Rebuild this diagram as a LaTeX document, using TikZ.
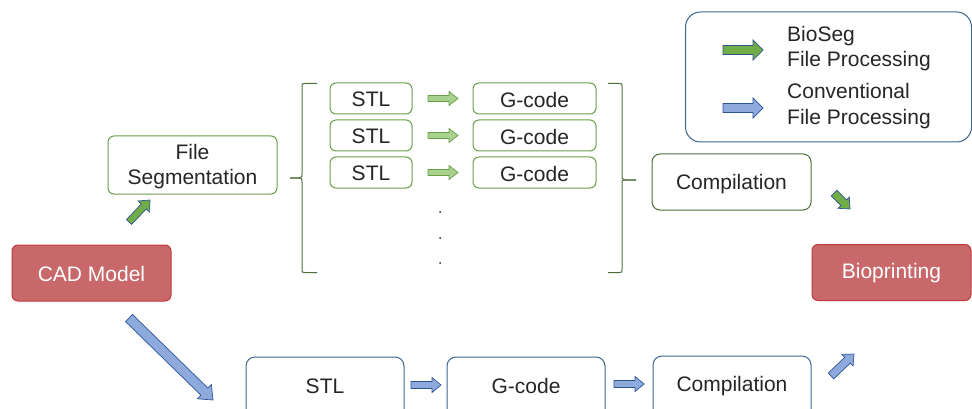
\documentclass[tikz,border=0pt]{standalone}
\usepackage{fontspec}
\setmainfont{Liberation Sans}
\usetikzlibrary{calc}

\definecolor{redfill}{HTML}{C8686A}
\definecolor{redline}{HTML}{C0383C}
\definecolor{greenline}{HTML}{6A9E48}
\definecolor{darkgreen}{HTML}{4E6E3A}
\definecolor{blueline}{HTML}{3C6591}
\definecolor{txt}{HTML}{262626}
\definecolor{garrow}{HTML}{70AD47}
\definecolor{lgarrow}{HTML}{A9D18E}
\definecolor{barrow}{HTML}{8EA9DB}
\definecolor{barrowline}{HTML}{2F5597}

% block arrow: [style]{from}{to}{shaft half width}{head half width}{head length}
\newcommand\blockarrow[6][]{%
  \coordinate (ba-base) at ($(#3)!#6!(#2)$);
  \filldraw[#1] ($(#2)!#4!90:(#3)$) -- ($(ba-base)!#4!90:(#3)$)
    -- ($(ba-base)!#5!90:(#3)$) -- (#3) -- ($(ba-base)!#5!-90:(#3)$)
    -- ($(ba-base)!#4!-90:(#3)$) -- ($(#2)!#4!-90:(#3)$) -- cycle;}

\tikzset{
  label font/.style={font=\fontsize{21}{25.5}\selectfont},
  box/.style={draw, rounded corners=6pt, line width=1pt, fill=white,
    text=txt, label font, align=center, inner sep=0pt},
  endbox/.style={box, draw=redline, fill=redfill, text=white,
    minimum width=159pt, minimum height=56pt},
  gbox/.style={box, draw=greenline},
  bbox/.style={box, draw=blueline, rounded corners=9pt},
  small/.style={gbox, minimum width=82pt, minimum height=31pt},
  code/.style={gbox, minimum width=123pt, minimum height=31pt},
  brace/.style={draw=darkgreen, line width=1pt},
  greenarrow/.style={fill=garrow, draw=barrowline, line width=0.7pt},
  lightarrow/.style={fill=lgarrow, draw=greenline, line width=0.7pt},
  bluearrow/.style={fill=barrow, draw=barrowline, line width=0.7pt},
  plain/.style={text=txt, label font, inner sep=0pt},
  legendtext/.style={plain, align=left, anchor=west},
  dot/.style={circle, fill=txt, inner sep=0pt, minimum size=2pt},
}

\begin{document}
\begin{tikzpicture}[x=1pt, y=-1pt]
\useasboundingbox (0,0) rectangle (972,409);
\clip (0,0) rectangle (972,409);

% start and end
\node[endbox] (cad) at (91.5,273) {};
\node[plain, text=white] (cadt) at (91.5,274) {CAD Model};
\node[endbox] (bio) at (891.5,272.5) {};
\node[plain, text=white] (biot) at (891.5,273.5) {Bioprinting};

% segmented branch
\node[gbox, minimum width=169pt, minimum height=58pt] (seg) at (192.5,165) {};
\node[plain, align=center] (segt) at (192.5,166.5) {File\\Segmentation};
\foreach \i/\y in {1/98.5, 2/135.5, 3/172.5} {
  \node[small] (stl\i) at (371,\y) {};
  \node[plain] (stlt\i) at (371,\y+1) {STL};
  \node[code] (gc\i) at (534.5,\y) {};
  \node[plain] (gct\i) at (534.5,\y+1) {G-code};
  \coordinate (ga\i) at (428,\y);
  \coordinate (gb\i) at (458,\y);
  \blockarrow[lightarrow]{ga\i}{gb\i}{3pt}{7pt}{9pt}
}
\node[dot] (d1) at (440,212) {};
\node[dot] (d2) at (440,238) {};
\node[dot] (d3) at (440,263) {};

% braces round the file list
\coordinate (lbt) at (317,83.5);
\coordinate (lbb) at (317,272.5);
\coordinate (lbm) at (290,178);
\draw[brace] (lbt) -- (305,83.5) .. controls (302,83.5) .. (302,87)
  -- (302,174) .. controls (302,178) .. (lbm);
\draw[brace] (lbm) -- (298,178) .. controls (302,178) .. (302,182)
  -- (302,269) .. controls (302,272.5) .. (305,272.5) -- (lbb);
\coordinate (rbt) at (608,83.5);
\coordinate (rbb) at (608,272.5);
\coordinate (rbm) at (636,180);
\draw[brace] (rbt) -- (619,83.5) .. controls (622,83.5) .. (622,87)
  -- (622,176) .. controls (622,180) .. (rbm);
\draw[brace] (rbm) -- (626,180) .. controls (622,180) .. (622,184)
  -- (622,269) .. controls (622,272.5) .. (619,272.5) -- (rbb);

\node[gbox, draw=darkgreen, rounded corners=8pt, minimum width=159pt,
  minimum height=56pt] (comp1) at (731.5,182) {};
\node[plain] (comp1t) at (731.5,184) {Compilation};

\coordinate (s1) at (129,222);
\coordinate (s2) at (150,200);
\blockarrow[greenarrow]{s1}{s2}{3.5pt}{8pt}{9pt}
\coordinate (c1) at (834,193);
\coordinate (c2) at (850,209);
\blockarrow[greenarrow]{c1}{c2}{4pt}{8pt}{9pt}

% conventional branch
\node[bbox, minimum width=158pt, minimum height=64pt] (stlb) at (325,389) {};
\node[plain] (stlbt) at (325,386) {STL};
\node[bbox, minimum width=158pt, minimum height=64pt] (gcb) at (526,389) {};
\node[plain] (gcbt) at (526,385.5) {G-code};
\node[bbox, minimum width=158pt, minimum height=64pt] (compb) at (732,388) {};
\node[plain] (compbt) at (732,386) {Compilation};

\coordinate (b1) at (129,318);
\coordinate (b2) at (213,400);
\blockarrow[bluearrow]{b1}{b2}{5pt}{10pt}{12pt}
\coordinate (b3) at (411,385);
\coordinate (b4) at (441,385);
\blockarrow[bluearrow]{b3}{b4}{3.5pt}{7.5pt}{9pt}
\coordinate (b5) at (614,384);
\coordinate (b6) at (644,384);
\blockarrow[bluearrow]{b5}{b6}{3.5pt}{7.5pt}{9pt}
\coordinate (b7) at (831,376);
\coordinate (b8) at (854,354);
\blockarrow[bluearrow]{b7}{b8}{4pt}{8pt}{9pt}

% legend
\node[draw=blueline, line width=1pt, rounded corners=15pt,
  minimum width=286pt, minimum height=130pt, inner sep=0pt] (legend)
  at (828.5,77) {};
\coordinate (l1) at (723,50);
\coordinate (l2) at (763,50);
\blockarrow[greenarrow]{l1}{l2}{4.5pt}{10pt}{10pt}
\coordinate (l3) at (723,108);
\coordinate (l4) at (763,108);
\blockarrow[bluearrow]{l3}{l4}{4.5pt}{10pt}{10pt}
\node[legendtext] (lt1) at (787,48.5) {BioSeg\\File Processing};
\node[legendtext] (lt2) at (787,106) {Conventional\\File Processing};
\end{tikzpicture}
\end{document}
